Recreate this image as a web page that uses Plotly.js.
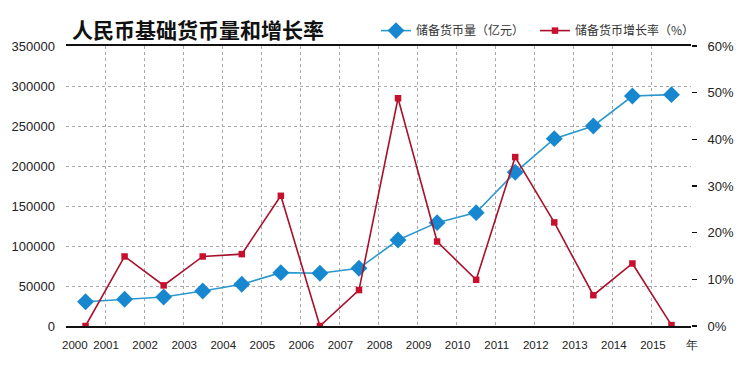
<!DOCTYPE html>
<html>
<head>
<meta charset="utf-8">
<script src="https://cdn.plot.ly/plotly-3.0.1.min.js"></script>
<style>html,body{margin:0;padding:0;background:#fff;}#chart{width:750px;height:369px;}</style>
</head>
<body>
<div id="chart"></div>
<script>
// ---- data ----
const years = [2000, 2001, 2002, 2003, 2004, 2005, 2006, 2007, 2008, 2009, 2010, 2011, 2012, 2013, 2014, 2015];
const reserveMoney = [30400, 33400, 36300, 43800, 52100, 66700, 66000, 72100, 107500, 129200, 141700, 192100, 234200, 250000, 287500, 289200]; // 亿元
const growthRate = [0, 14.9, 8.7, 14.9, 15.4, 27.9, 0, 7.7, 48.8, 18.1, 9.9, 36.2, 22.2, 6.6, 13.4, 0.2]; // %
const xTickLabels = ['2000', '2001', '2002', '2003', '2004', '2005', '2006', '2007', '2008', '2009', '2010', '2011', '2012', '2013', '2014', '2015', '年'];
const seriesNames = ['储备货币量（亿元）', '储备货币增长率（%）'];
const chartTitle = '人民币基础货币量和增长率';

// each year's point sits in the middle of its slot
const xPos = years.map((y, i) => i + 0.5);
const tickVals = xTickLabels.map((t, i) => i);

const numFam = '"Liberation Sans", Arial, sans-serif';
const numFont = {family: numFam, size: 13, color: '#222'};
const xFont = {family: numFam, size: 11.5, color: '#222'};
const cjk = '"Noto Sans CJK SC", "Noto Sans", sans-serif';

const traces = [
  {
    x: xPos, y: reserveMoney, name: seriesNames[0], type: 'scatter', mode: 'lines+markers',
    line: {color: '#2a98cc', width: 1.6},
    marker: {symbol: 'diamond', size: 13, color: '#1788d0'},
    yaxis: 'y', legend: 'legend'
  },
  {
    x: xPos, y: growthRate, name: seriesNames[1], type: 'scatter', mode: 'lines+markers',
    line: {color: '#a8102c', width: 1.6},
    marker: {symbol: 'square', size: 6.5, color: '#c8102e'},
    yaxis: 'y2', legend: 'legend2'
  }
];

const legendBase = {
  orientation: 'h', xanchor: 'left', y: 1.055, yanchor: 'middle',
  font: {family: cjk, size: 12, color: '#333'},
  bgcolor: 'rgba(0,0,0,0)', itemwidth: 30
};

const layout = {
  width: 750, height: 369,
  margin: {l: 66, r: 59, t: 46, b: 43},
  paper_bgcolor: '#fff', plot_bgcolor: '#fff',
  showlegend: true,
  title: {
    text: '<b>' + chartTitle + '</b>',
    font: {family: cjk, size: 21, color: '#111'},
    x: 72 / 750, xanchor: 'left', xref: 'container',
    y: (369 - 31) / 369, yanchor: 'middle', yref: 'container'
  },
  legend: Object.assign({}, legendBase, {x: 0.496}),
  legend2: Object.assign({}, legendBase, {x: 0.7504}),
  xaxis: {
    range: [0, 16], tickmode: 'array', tickvals: tickVals,
    ticktext: xTickLabels.map((t, i) => i === 0 ? '' : t),
    showgrid: true, gridcolor: '#a8a8a8', griddash: '3px,3px', gridwidth: 1,
    zeroline: false, showline: true, linecolor: '#111', linewidth: 2, mirror: true,
    ticks: '', ticklabelstandoff: 7, ticklabelshift: 1,
    tickfont: xFont,
    fixedrange: true
  },
  yaxis: {
    range: [0, 350000], dtick: 50000, tick0: 0, tickformat: 'd',
    showgrid: true, gridcolor: '#a8a8a8', griddash: '3px,3px', gridwidth: 1,
    zeroline: false, showline: false, ticks: '', ticklabelstandoff: 10,
    tickfont: numFont, fixedrange: true
  },
  yaxis2: {
    range: [0, 60], dtick: 10, tick0: 0, ticksuffix: '%', overlaying: 'y', side: 'right',
    showgrid: false, zeroline: false, showline: false,
    ticks: 'outside', ticklen: 5, tickwidth: 1.5, tickcolor: '#111', ticklabelstandoff: 8,
    tickfont: numFont, fixedrange: true
  },
  annotations: [{
    x: 0, xref: 'x', y: 0, yref: 'paper', text: xTickLabels[0],
    xanchor: 'left', yanchor: 'middle', yshift: -19, xshift: -6, showarrow: false,
    font: xFont
  }]
};

Plotly.newPlot('chart', traces, layout, {displayModeBar: false, staticPlot: true});
</script>
</body>
</html>
